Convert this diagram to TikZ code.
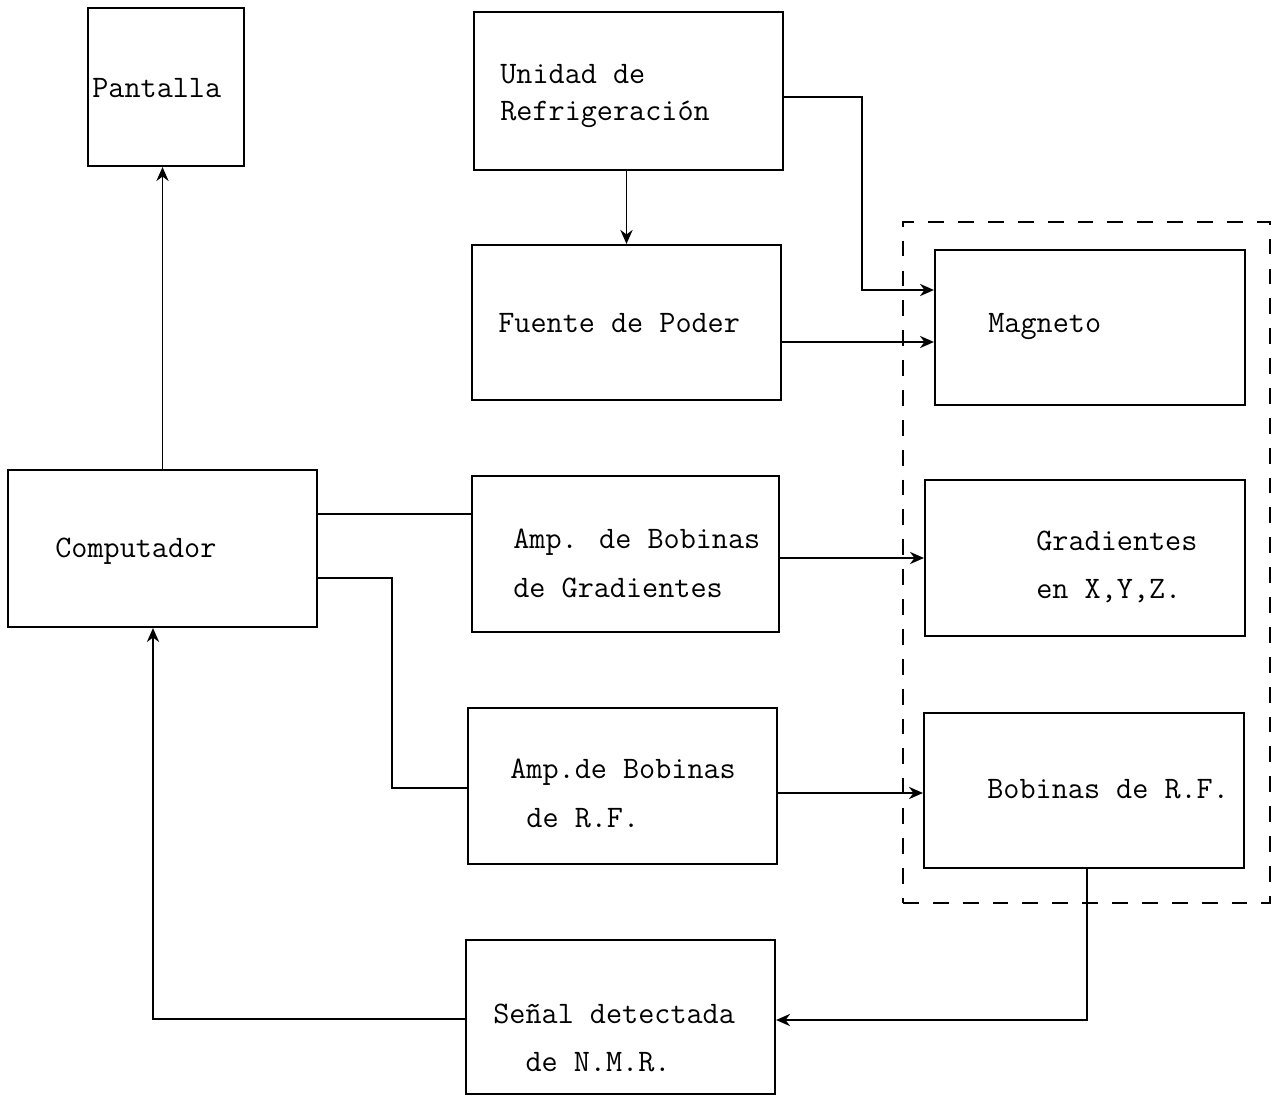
\documentclass[tikz,border=0pt]{standalone}
\usepackage{fontspec}
\usetikzlibrary{arrows.meta,fit}
\begin{document}
\begin{tikzpicture}[x=0.02cm,y=-0.02cm,
  box/.style={draw,line width=1.2pt,inner sep=0pt},
  lbl/.style={anchor=west,align=left,inner sep=0pt,
    font=\ttfamily\fontsize{17.8}{27.8}\selectfont},
  wire/.style={line width=0.9pt},
  arr/.style={wire,-{Stealth[length=8pt,width=7pt]}},
  group/.style={draw,line width=1.1pt,dash pattern=on 9pt off 8pt,inner sep=0pt}]
\useasboundingbox (0,0) rectangle (1284,1098);

% blocks
\node[box,fit={(88,8) (244,166)}] (pant) {};
\node[box,fit={(474,12) (783,170)}] (unidad) {};
\node[box,fit={(472,245) (781,400)}] (fuente) {};
\node[box,fit={(935,250) (1245,405)}] (magneto) {};
\node[box,fit={(8,470) (317,627)}] (comp) {};
\node[box,fit={(472,476) (779,632)}] (ampg) {};
\node[box,fit={(925,480) (1245,636)}] (grad) {};
\node[box,fit={(468,708) (777,864)}] (amprf) {};
\node[box,fit={(924,713) (1244,868)}] (bob) {};
\node[box,fit={(466,940) (775,1094)}] (senal) {};

% dashed enclosure of the magnet assembly
\node[group,fit={(903,222) (1270,903)}] (iman) {};

% block texts
\node[lbl] (pantT) at (92,88) {Pantalla};
\node[lbl,font=\ttfamily\fontsize{17.8}{21}\selectfont] (unidadT) at (500,96) {Unidad de\\Refrigeración};
\node[lbl] (fuenteT) at (498,323) {Fuente de Poder};
\node[lbl] (magnetoT) at (988,327) {Magneto};
\node[lbl] (compT) at (55,551) {Computador};
\node[lbl] (ampgT) at (513,563) {Amp. de Bobinas\\de Gradientes};
\node[lbl] (gradT) at (1036,567) {Gradientes\\en X,Y,Z.};
\node[lbl] (amprfT) at (510,793) {Amp.de Bobinas\\\ de R.F.};
\node[lbl] (bobT) at (987,789) {Bobinas de R.F.};
\node[lbl] (senalT) at (493,1038) {Señal detectada\\\ \ de N.M.R.};

% connections
\draw[arr] (comp.north) -- (comp.north |- pant.south);
\draw[arr] (fuente.north |- unidad.south) -- (fuente.north);
\draw[arr] (unidad.east |- 0,97) -- (862,97) |- (magneto.west |- 0,290);
\draw[arr] (fuente.east |- 0,342) -- (magneto.west |- 0,342);
\draw[wire] (comp.east |- 0,514) -- (ampg.west |- 0,514);
\draw[arr] (ampg.east |- 0,558) -- (grad.west |- 0,558);
\draw[wire] (comp.east |- 0,578) -- (392,578) |- (amprf.west |- 0,788);
\draw[arr] (amprf.east |- 0,793) -- (bob.west |- 0,793);
\draw[arr] (bob.south -| 1087,0) -- (1087,1020) -- (senal.east |- 0,1020);
\draw[arr] (senal.west |- 0,1019) -- (153,1019) -- (comp.south -| 153,0);
\end{tikzpicture}
\end{document}
